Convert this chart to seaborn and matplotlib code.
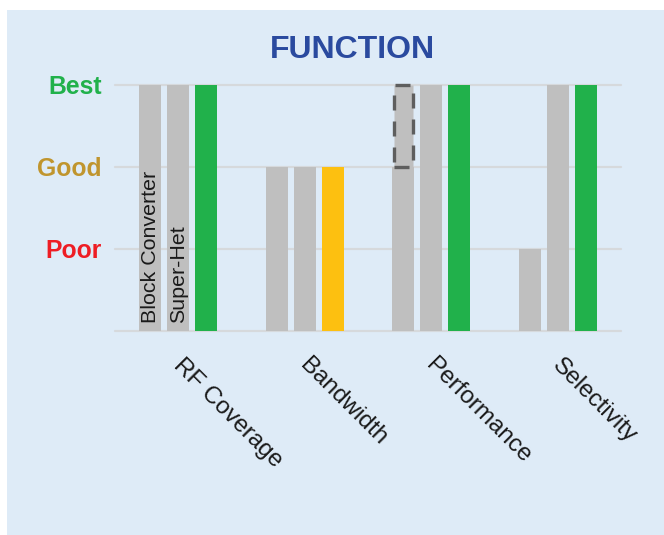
import numpy as np
import pandas as pd
import matplotlib
matplotlib.use("Agg")
import matplotlib.pyplot as plt
import matplotlib.transforms as mtransforms
from matplotlib.patches import Rectangle
import seaborn as sns

# Ratings: 1 = Poor, 2 = Good, 3 = Best
categories = ["RF Coverage", "Bandwidth", "Performance", "Selectivity"]
series_names = ["Block Converter", "Super-Het", "New Design"]
block_converter = [3, 2, 2, 1]
super_het = [3, 2, 3, 3]
new_design = [3, 2, 3, 3]
# Rating the block converter could reach (shown as a dashed outline)
block_converter_potential = [np.nan, np.nan, 3, np.nan]
rating_levels = [0, 1, 2, 3]
rating_labels = ["", "Poor", "Good", "Best"]

BG = "#deebf7"
GRAY = "#bfbfbf"
GRID = "#d6d9dc"
level_colors = {3: "#21b14b", 2: "#fdc010"}
label_colors = {"Poor": "#ee1d24", "Good": "#c0952e", "Best": "#21b14b"}
TITLE_COLOR = "#2a4a9f"

sns.set_theme(style="white")
plt.rcParams["font.family"] = ["Liberation Sans", "DejaVu Sans"]

W, H = 664, 535
fig = plt.figure(figsize=(W / 100, H / 100), dpi=100)
fig.patch.set_facecolor("white")
fig.add_artist(Rectangle((7 / W, 0), 1 - 7 / W, 1 - 10 / H,
                         transform=fig.transFigure, facecolor=BG,
                         edgecolor="none", zorder=-10))

ax = fig.add_axes([115 / W, 1 - 331 / H, 506 / W, 246 / H])
ax.set_facecolor("none")

df = pd.DataFrame({
    "category": categories * 3,
    "series": np.repeat(series_names, len(categories)),
    "rating": block_converter + super_het + new_design,
})

sns.barplot(data=df, x="category", y="rating", hue="series",
            order=categories, hue_order=series_names,
            palette=[GRAY, GRAY, GRAY], width=0.664, gap=0.214,
            saturation=1, legend=False, linewidth=0, ax=ax, zorder=2)


def cat_index(patch):
    return int(round(patch.get_x() + patch.get_width() / 2))


# colour the new design bars by their rating
for patch in ax.containers[2]:
    patch.set_facecolor(level_colors[new_design[cat_index(patch)]])

# dashed outline for the potential block converter rating
for patch in list(ax.containers[0]):
    i = cat_index(patch)
    top = block_converter_potential[i]
    if np.isfinite(top):
        ax.bar(patch.get_x() + patch.get_width() / 2, top - block_converter[i],
               bottom=block_converter[i], width=patch.get_width() * 0.85,
               facecolor=GRAY, edgecolor="#5e5e5e", linewidth=2.4,
               linestyle=(0, (4.5, 3.3)), clip_on=False, zorder=3)

# series names written inside the first group's bars
for cont, name in zip(ax.containers[:2], series_names[:2]):
    patch = [p for p in cont if cat_index(p) == 0][0]
    ax.annotate(name, xy=(patch.get_x() + patch.get_width() / 2, 0),
                xytext=(0, 8), textcoords="offset pixels", rotation=90,
                ha="left", va="center", rotation_mode="anchor",
                fontsize=15.4, color="#1a1a1a", zorder=5)

ax.set_xlim(-0.5, 3.5)
ax.set_ylim(0, 3)
ax.set_yticks(rating_levels)
ax.set_yticklabels(rating_labels, fontsize=17.8, fontweight="bold")
for lbl in ax.get_yticklabels():
    lbl.set_color(label_colors.get(lbl.get_text(), "black"))
ax.set_xlabel("")
ax.set_ylabel("")
ax.set_xticks(range(len(categories)))
ax.set_xticklabels(categories, rotation=-45, ha="left",
                   rotation_mode="anchor", fontsize=17.5, color="#1a1a1a")
ax.tick_params(axis="y", length=0, pad=9.5)
ax.tick_params(axis="x", length=0, pad=14)

# nudge the slanted category labels right and down
shift = mtransforms.ScaledTranslation(6 / 100, -4 / 100, fig.dpi_scale_trans)
for lbl in ax.get_xticklabels():
    lbl.set_transform(lbl.get_transform() + shift)

ax.set_axisbelow(True)
ax.yaxis.grid(True, color=GRID, linewidth=1.6)
ax.xaxis.grid(False)
for line in ax.get_ygridlines():
    line.set_clip_on(False)
for s in ax.spines.values():
    s.set_visible(False)

fig.text(352 / W, 1 - 49.5 / H, "FUNCTION", ha="center", va="center",
         fontsize=23, fontweight="bold", color=TITLE_COLOR)

fig.savefig("out.png", dpi=100, facecolor=fig.get_facecolor())
